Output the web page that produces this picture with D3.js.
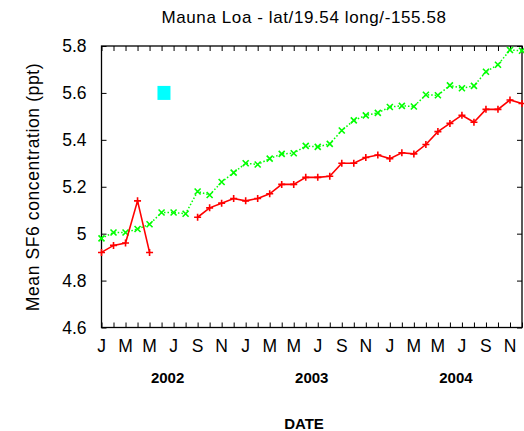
<!DOCTYPE html>
<html>
<head>
<meta charset="utf-8">
<script src="https://cdn.jsdelivr.net/npm/d3@7"></script>
<style>
  html, body { margin: 0; padding: 0; background: #fff; }
  svg { display: block; font-family: "Liberation Sans", Arial, Helvetica, sans-serif; }
</style>
</head>
<body>
<svg id="chart" width="524" height="431"></svg>
<script>
// Monthly mean SF6 at Mauna Loa, Jan 2002 - Dec 2004 (month index 0..35)
const monthIndex = d3.range(36);
const seriesRed = [4.92, 4.95, 4.96, 5.14, 4.92, null, null, null, 5.07, 5.11, 5.13, 5.15,
                   5.14, 5.15, 5.17, 5.21, 5.21, 5.24, 5.24, 5.245, 5.30, 5.30, 5.325, 5.335,
                   5.32, 5.345, 5.34, 5.38, 5.435, 5.47, 5.505, 5.475, 5.53, 5.53, 5.57, 5.555];
const seriesGreen = [4.98, 5.005, 5.005, 5.02, 5.04, 5.09, 5.09, 5.085, 5.18, 5.165, 5.22, 5.26,
                     5.30, 5.295, 5.32, 5.34, 5.343, 5.374, 5.37, 5.383, 5.44, 5.483, 5.504, 5.515,
                     5.54, 5.545, 5.542, 5.592, 5.59, 5.632, 5.62, 5.63, 5.69, 5.72, 5.783, 5.78];
const seriesCyan = [{ month: 5.2, value: 5.6 }];
const monthTickLabels = ["J", "M", "M", "J", "S", "N"];
const years = ["2002", "2003", "2004"];
const yTicks = [4.6, 4.8, 5.0, 5.2, 5.4, 5.6, 5.8];
const yTickLabels = ["4.6", "4.8", "5", "5.2", "5.4", "5.6", "5.8"];

const svg = d3.select("#chart");
const plotLeft = 101.5, plotRight = 522, plotTop = 46, plotBottom = 327.5;

const x = d3.scaleLinear().domain([0, 35]).range([plotLeft, plotRight]);
const y = d3.scaleLinear().domain([4.6, 5.8]).range([plotBottom, plotTop]);

// frame
svg.append("rect")
  .attr("x", plotLeft).attr("y", plotTop)
  .attr("width", plotRight - plotLeft).attr("height", plotBottom - plotTop)
  .attr("fill", "none").attr("stroke", "#000").attr("stroke-width", 1.3);

// inward ticks on all four sides
const tickLen = 5;
const axisStyle = g => {
  g.select(".domain").remove();
  g.selectAll(".tick line").attr("stroke", "#000").attr("stroke-width", 1);
  g.selectAll(".tick text").remove();
};
svg.append("g").attr("transform", `translate(0,${plotBottom})`)
  .call(d3.axisBottom(x).tickValues(monthIndex).tickSize(-tickLen)).call(axisStyle);
svg.append("g").attr("transform", `translate(0,${plotTop})`)
  .call(d3.axisTop(x).tickValues(monthIndex).tickSize(-tickLen)).call(axisStyle);
svg.append("g").attr("transform", `translate(${plotLeft},0)`)
  .call(d3.axisLeft(y).tickValues(yTicks).tickSize(-tickLen)).call(axisStyle);
svg.append("g").attr("transform", `translate(${plotRight},0)`)
  .call(d3.axisRight(y).tickValues(yTicks).tickSize(-tickLen)).call(axisStyle);

// y tick labels
svg.append("g").selectAll("text").data(yTicks).join("text")
  .attr("x", plotLeft - 15).attr("y", d => y(d)).attr("dy", "0.36em")
  .attr("text-anchor", "end").attr("font-size", 17.5)
  .text((d, i) => yTickLabels[i]);

// month letters every second month
const labelMonths = monthIndex.filter(m => m % 2 === 0);
svg.append("g").selectAll("text").data(labelMonths).join("text")
  .attr("x", d => x(d)).attr("y", 352)
  .attr("text-anchor", "middle").attr("font-size", 17.5)
  .text(d => monthTickLabels[(d % 12) / 2]);

// year labels centred on each year
svg.append("g").selectAll("text").data(years).join("text")
  .attr("x", (d, i) => x(i * 12 + 5.5)).attr("y", 383)
  .attr("text-anchor", "middle").attr("font-size", 15).attr("font-weight", "bold")
  .text(d => d);

// axis titles
svg.append("text").attr("x", 304).attr("y", 429)
  .attr("text-anchor", "middle").attr("font-size", 15).attr("font-weight", "bold")
  .text("DATE");
svg.append("text")
  .attr("transform", "translate(39,187) rotate(-90)")
  .attr("text-anchor", "middle").attr("font-size", 17.5).attr("letter-spacing", 0.6)
  .text("Mean SF6 concentration (ppt)");
svg.append("text").attr("x", 304).attr("y", 23)
  .attr("text-anchor", "middle").attr("font-size", 17).attr("letter-spacing", 0.6)
  .text("Mauna Loa - lat/19.54 long/-155.58");

// green series: dotted line with x markers
const greenPts = monthIndex.map(i => ({ m: i, v: seriesGreen[i] }));
svg.append("path").datum(greenPts)
  .attr("fill", "none").attr("stroke", "#00ff00").attr("stroke-width", 1.5)
  .attr("stroke-dasharray", "1.5,2")
  .attr("d", d3.line().defined(d => d.v != null).x(d => x(d.m)).y(d => y(d.v)));
svg.append("g").selectAll("path").data(greenPts.filter(d => d.v != null)).join("path")
  .attr("transform", d => `translate(${x(d.m)},${y(d.v)})`)
  .attr("d", "M-3,-3L3,3M-3,3L3,-3")
  .attr("stroke", "#00ff00").attr("stroke-width", 1.6).attr("fill", "none");

// red series: solid line with + markers (gap where data is missing)
const redPts = monthIndex.map(i => ({ m: i, v: seriesRed[i] }));
svg.append("path").datum(redPts)
  .attr("fill", "none").attr("stroke", "#ff0000").attr("stroke-width", 1.6)
  .attr("d", d3.line().defined(d => d.v != null).x(d => x(d.m)).y(d => y(d.v)));
svg.append("g").selectAll("path").data(redPts.filter(d => d.v != null)).join("path")
  .attr("transform", d => `translate(${x(d.m)},${y(d.v)})`)
  .attr("d", "M-3.5,0L3.5,0M0,-3.5L0,3.5")
  .attr("stroke", "#ff0000").attr("stroke-width", 1.6).attr("fill", "none");

// cyan single point drawn as a filled square
svg.append("g").selectAll("rect").data(seriesCyan).join("rect")
  .attr("x", d => x(d.month) - 6.5).attr("y", d => y(d.value) - 7)
  .attr("width", 13).attr("height", 14)
  .attr("fill", "#00ffff");
</script>
</body>
</html>
